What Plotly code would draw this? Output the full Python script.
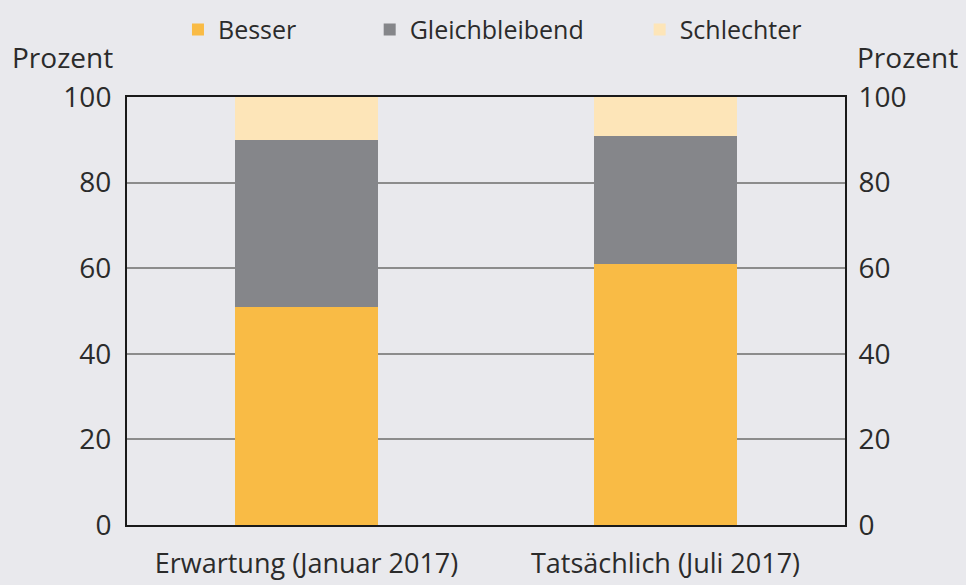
import plotly.graph_objects as go

categories = ["Erwartung (Januar 2017)", "Tatsächlich (Juli 2017)"]
besser = [51, 61]
gleichbleibend = [39, 30]
schlechter = [10, 9]
tickvals = [0, 20, 40, 60, 80, 100]

bg = "#e9e9ed"
font = dict(family="Open Sans, Lato, sans-serif", size=24, color="#2b2b2b")

fig = go.Figure()
fig.add_bar(x=categories, y=besser, name="Besser", legend="legend",
            marker=dict(color="#f9bb45", line=dict(width=0)))
fig.add_bar(x=categories, y=gleichbleibend, name="Gleichbleibend", legend="legend2",
            marker=dict(color="#85868a", line=dict(width=0)))
fig.add_bar(x=categories, y=schlechter, name="Schlechter", legend="legend3",
            marker=dict(color="#fde5b8", line=dict(width=0)))
# invisible trace to activate right axis
fig.add_scatter(x=categories, y=[0, 0], yaxis="y2", mode="lines", line=dict(width=0),
                showlegend=False, hoverinfo="skip")

leg = dict(orientation="h", y=1.157, yanchor="middle", xanchor="left",
           font=dict(size=25), bgcolor="rgba(0,0,0,0)")

fig.update_layout(
    width=966, height=585,
    barmode="stack", bargap=0.6,
    paper_bgcolor=bg, plot_bgcolor=bg,
    font=font,
    margin=dict(l=127, r=121, t=97, b=60, autoexpand=False),
    xaxis=dict(showline=True, linecolor="#1a1a1a", linewidth=2, mirror=True,
               ticks="", tickfont=dict(size=27), range=[-0.5, 1.5], ticklabelstandoff=14),
    yaxis=dict(range=[0, 100], tickvals=tickvals, showline=True, linecolor="#1a1a1a", linewidth=2,
               gridcolor="#8c8c8c", gridwidth=2, zeroline=False, ticks="", tickfont=dict(size=28),
               ticklabelstandoff=8),
    yaxis2=dict(range=[0, 100], tickvals=tickvals, overlaying="y", side="right", showline=True,
                linecolor="#1a1a1a", linewidth=2, showgrid=False, zeroline=False, ticks="",
                tickfont=dict(size=28), ticklabelstandoff=6),
    legend=dict(leg, x=0.071),
    legend2=dict(leg, x=0.338),
    legend3=dict(leg, x=0.714),
    showlegend=True,
    annotations=[
        dict(text="Prozent", xref="paper", yref="paper", x=-0.163, y=1.093, xanchor="left",
             yanchor="middle", showarrow=False, font=dict(size=28)),
        dict(text="Prozent", xref="paper", yref="paper", x=1.160, y=1.093, xanchor="right",
             yanchor="middle", showarrow=False, font=dict(size=28)),
    ],
)

fig.write_html("out.html", post_script="document.body.style.margin='0';",
               config={"displayModeBar": False})
